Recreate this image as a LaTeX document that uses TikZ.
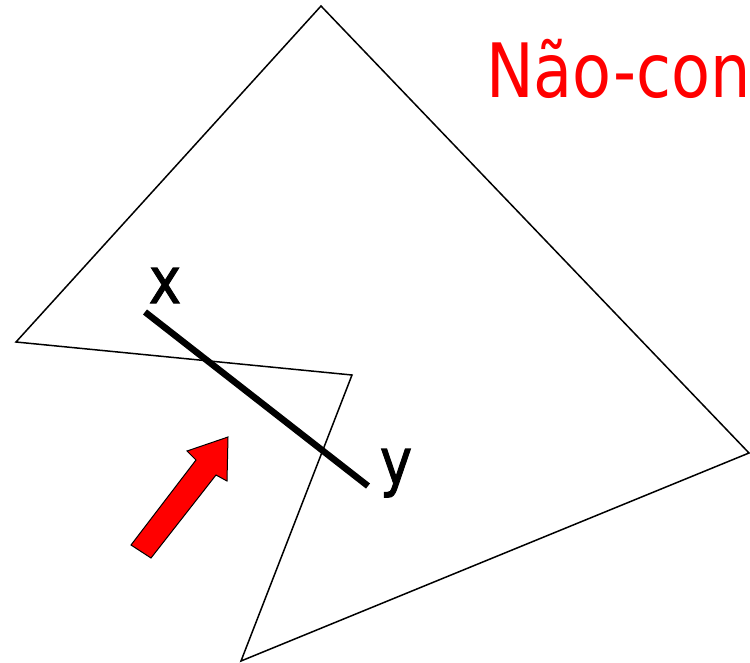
\documentclass[tikz,border=0pt]{standalone}
\usepackage{fontspec}
\newfontfamily\dvsans{DejaVu Sans}
\newfontfamily\dvsansheavy[FakeBold=1.6]{DejaVu Sans}
\begin{document}
\begin{tikzpicture}[x=1pt,y=-1pt,
  outline/.style={draw=black,line width=1.5pt,line join=miter},
  segment/.style={draw=black,line width=6.5pt},
  ptlabel/.style={font=\dvsansheavy\fontsize{64}{70}\selectfont,xscale=0.85,inner sep=0pt,anchor=base},
  titletext/.style={font=\dvsans\fontsize{75}{85}\selectfont,text=red,xscale=0.85,inner sep=0pt,anchor=base west},
  bigarrow/.style={draw=black,fill=red,line width=1pt,line join=miter}]
\useasboundingbox (0,0) rectangle (750,662);
% non-convex polygon
\coordinate (A) at (321,6);
\coordinate (B) at (749,453);
\coordinate (C) at (241,661);
\coordinate (D) at (352,375);
\coordinate (E) at (16,342);
\draw[outline] (A) -- (B) -- (C) -- (D) -- (E) -- cycle;
% segment x-y
\coordinate (X) at (145,312);
\coordinate (Y) at (368,486);
\draw[segment] (X) -- (Y);
\node[ptlabel] (xlab) at (165,303) {x};
\node[ptlabel] (ylab) at (396,484) {y};
% red arrow
\draw[bigarrow] (131,545) -- (196,460) -- (187,451) -- (228,437) -- (227,481) -- (216,475) -- (151,558) -- cycle;
% title
\node[titletext] (title) at (486,97) {Não-con};
\end{tikzpicture}
\end{document}
